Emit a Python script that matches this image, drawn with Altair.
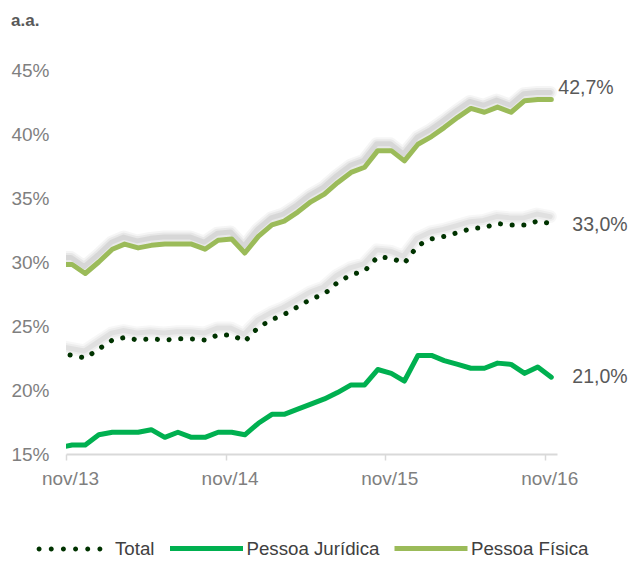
import altair as alt
import pandas as pd

dates = [
    "2013-10-15", "2013-11-15", "2013-12-15",
    "2014-01-15", "2014-02-15", "2014-03-15", "2014-04-15", "2014-05-15", "2014-06-15",
    "2014-07-15", "2014-08-15", "2014-09-15", "2014-10-15", "2014-11-15", "2014-12-15",
    "2015-01-15", "2015-02-15", "2015-03-15", "2015-04-15", "2015-05-15", "2015-06-15",
    "2015-07-15", "2015-08-15", "2015-09-15", "2015-10-15", "2015-11-15", "2015-12-15",
    "2016-01-15", "2016-02-15", "2016-03-15", "2016-04-15", "2016-05-15", "2016-06-15",
    "2016-07-15", "2016-08-15", "2016-09-15", "2016-10-15", "2016-11-15",
]
total = [22.9, 22.7, 22.5, 23.2, 23.9, 24.1, 23.9, 24.0, 23.9, 24.0,
         24.0, 23.9, 24.3, 24.3, 23.8, 24.9, 25.5, 25.9, 26.5, 27.1,
         27.5, 28.4, 29.0, 29.3, 30.4, 30.3, 29.9, 31.3, 31.8, 32.0,
         32.3, 32.6, 32.7, 33.0, 32.9, 32.9, 33.2, 33.0]
pj = [15.5, 15.7, 15.7, 16.5, 16.7, 16.7, 16.7, 16.9, 16.3, 16.7,
      16.3, 16.3, 16.7, 16.7, 16.5, 17.4, 18.1, 18.1, 18.5, 18.9,
      19.3, 19.8, 20.4, 20.4, 21.6, 21.3, 20.7, 22.7, 22.7, 22.3,
      22.0, 21.7, 21.7, 22.1, 22.0, 21.3, 21.8, 21.0]
pf = [29.8, 29.8, 29.1, 30.0, 31.0, 31.4, 31.1, 31.3, 31.4, 31.4,
      31.4, 31.0, 31.7, 31.8, 30.7, 32.0, 32.9, 33.2, 33.9, 34.7,
      35.3, 36.2, 37.0, 37.4, 38.7, 38.7, 37.9, 39.2, 39.8, 40.5,
      41.3, 42.0, 41.7, 42.1, 41.7, 42.6, 42.7, 42.7]

series = ["Total", "Pessoa Jurídica", "Pessoa Física"]
colors = ["#003300", "#00B050", "#9BBB59"]
y_ticks = [15, 20, 25, 30, 35, 40, 45]

rows = []
for name, vals in zip(series, [total, pj, pf]):
    for d, v in zip(dates, vals):
        rows.append({"date": d, "serie": name, "value": v})
df = pd.DataFrame(rows)

last = pd.DataFrame({
    "date": [dates[-1]] * 3,
    "serie": series,
    "value": [total[-1], pj[-1], pf[-1]],
})
last["label"] = [f"{v:.1f}".replace(".", ",") + "%" for v in last["value"]]

FONT = "Liberation Sans"

x_enc = alt.X(
    "date:T",
    title=None,
    scale=alt.Scale(
        type="utc", nice=False,
        domain=[alt.DateTime(year=2013, month=11, date=1, utc=True),
                alt.DateTime(year=2016, month=11, date=28, utc=True)],
    ),
    axis=alt.Axis(
        values=[alt.DateTime(year=y, month=11, date=1, utc=True) for y in (2013, 2014, 2015, 2016)],
        labelExpr="lower(utcFormat(datum.value, '%b/%y'))",
        labelFlush=False, labelOverlap=False, labelOffset=4,
        domainColor="#D9D9D9", domainWidth=2,
        tickColor="#D9D9D9", tickSize=6, tickWidth=1.5,
        labelColor="#7F7F7F", labelFontSize=19, labelFont=FONT, labelPadding=9,
        grid=False,
    ),
)
y_enc = alt.Y(
    "value:Q",
    title=None,
    scale=alt.Scale(domain=[15, 45], nice=False, zero=False),
    axis=alt.Axis(
        values=y_ticks, labelExpr="datum.value + '%'",
        domain=False, ticks=False, tickSize=0, grid=False,
        labelColor="#7F7F7F", labelFontSize=19, labelFont=FONT, labelPadding=17,
    ),
)

base = alt.Chart(df)


def shadow(name, specs):
    out = []
    for w, op in specs:
        out.append(
            base.transform_filter(alt.datum.serie == name)
            .mark_line(clip=True, color="black", opacity=op, strokeWidth=w,
                       strokeCap="round", strokeJoin="round", yOffset=-7, xOffset=-1)
            .encode(x=x_enc, y=y_enc)
        )
    return out


shadows = shadow("Pessoa Física", [(13, 0.04), (9, 0.05), (5, 0.07)]) + \
    shadow("Total", [(13, 0.03), (9, 0.04), (5, 0.05)])

# legend for the two solid lines
legend_lines = alt.Legend(
    title=None, orient="none", legendX=101.5, legendY=439.5, direction="horizontal",
    symbolType="stroke", symbolSize=73 * 73, symbolStrokeWidth=5,
    labelFont=FONT, labelFontSize=18.7, labelColor="#404040", labelOffset=1,
    columnPadding=4.5, padding=0,
)
solid = base.transform_filter(alt.datum.serie != "Total").mark_line(
    clip=True, strokeWidth=5, strokeCap="round", strokeJoin="round"
).encode(
    x=x_enc, y=y_enc,
    color=alt.Color("serie:N", scale=alt.Scale(domain=series[1:], range=colors[1:]),
                    legend=legend_lines),
)

dotted = base.transform_filter(alt.datum.serie == "Total").mark_line(
    clip=True, strokeWidth=5, strokeCap="round", strokeJoin="round",
    strokeDash=[0.1, 11.6], color=colors[0]
).encode(x=x_enc, y=y_enc)

# legend entry for the dotted series: a row of six dots as symbol
r = 0.075
dot_path = "".join(
    f"M{-0.921 + i * 0.3684 - r:.4f},0a{r},{r} 0 1,0 {2 * r},0a{r},{r} 0 1,0 {-2 * r},0Z"
    for i in range(6)
)
legend_dots = alt.Legend(
    title=None, orient="none", legendX=-30, legendY=445.5, direction="horizontal",
    symbolSize=66 * 66, symbolFillColor=colors[0], symbolStrokeColor=colors[0],
    symbolStrokeWidth=0.5, symbolOpacity=1,
    labelFont=FONT, labelFontSize=18.7, labelColor="#404040", labelOffset=12, padding=0,
)
dot_key = alt.Chart(last).transform_filter(alt.datum.serie == "Total").mark_point(
    filled=True, opacity=0, color=colors[0]
).encode(
    x=x_enc, y=y_enc,
    shape=alt.Shape("serie:N", scale=alt.Scale(domain=["Total"], range=[dot_path]),
                    legend=legend_dots),
)

label_specs = {"Pessoa Física": (7, -11), "Total": (21, 1.5), "Pessoa Jurídica": (21, 0)}
labels = []
for name, (dx, dy) in label_specs.items():
    labels.append(
        alt.Chart(last).transform_filter(alt.datum.serie == name)
        .mark_text(align="left", baseline="middle", dx=dx, dy=dy, fontSize=19.5,
                   font=FONT, color="#595959")
        .encode(x=x_enc, y=y_enc, text="label:N")
    )

chart = alt.layer(*shadows, solid, dotted, dot_key, *labels).properties(
    width=491, height=384,
    padding={"left": 58, "top": 62, "right": 71, "bottom": 104},
    autosize="none",
    title=alt.TitleParams("a.a.", anchor="start", frame="group", dx=-55, offset=18,
                          baseline="alphabetic", fontSize=17, fontWeight="bold",
                          color="#595959", font=FONT),
).configure(font=FONT).configure_view(stroke=None)

chart.save("out.html", embed_options={"renderer": "svg", "actions": False})
